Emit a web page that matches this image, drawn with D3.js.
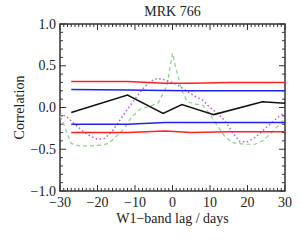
<!DOCTYPE html>
<html>
<head>
<meta charset="utf-8">
<script src="https://cdn.jsdelivr.net/npm/d3@7"></script>
<style>
  body { margin: 0; background: #fff; }
  svg text { font-family: "Liberation Serif", "Times New Roman", Times, serif; }
</style>
</head>
<body>
<svg id="chart"></svg>
<script>
const title = "MRK 766";
const xLabel = "W1\u2212band lag / days";
const yLabel = "Correlation";
const xTicks = [-30, -20, -10, 0, 10, 20, 30];
const yTicks = [-1, -0.5, 0, 0.5, 1];

// measured correlation
const blackLags = [-27, -12, -2.5, 2.5, 11, 24, 30];
const blackVals = [-0.06, 0.15, -0.07, 0.035, -0.085, 0.07, 0.05];

// significance levels
const bandLags = [-27, -12, -2, 5, 15, 30];
const redUpper = [0.31, 0.31, 0.29, 0.29, 0.30, 0.30];
const redLower = [-0.30, -0.30, -0.28, -0.30, -0.29, -0.29];
const blueUpper = [0.215, 0.21, 0.205, 0.20, 0.20, 0.20];
const blueLower = [-0.20, -0.20, -0.18, -0.18, -0.18, -0.18];

// green dashed
const greenLags = [-30, -29, -28, -27, -25, -22, -19, -17, -15.8, -13, -11, -8.7, -6, -3.8, -1.5, 0, 1, 2.5, 4, 6, 8, 10, 12, 14, 16, 19, 22, 24, 26, 28, 30];
const greenVals = [-0.10, -0.20, -0.32, -0.43, -0.46, -0.46, -0.45, -0.43, -0.38, -0.26, -0.12, -0.02, 0.015, 0.056, 0.26, 0.65, 0.45, 0.20, 0.07, 0.04, 0.03, -0.08, -0.22, -0.35, -0.42, -0.44, -0.44, -0.40, -0.32, -0.23, -0.13];

// purple dotted
const purpleLags = [-30, -28, -26, -24, -22, -20, -18, -16, -14, -12, -10, -8, -6, -4, -2, 0, 2, 4, 6, 8, 10, 12, 14, 16, 18, 20, 22, 24, 26, 28, 30];
const purpleVals = [-0.07, -0.12, -0.20, -0.28, -0.34, -0.38, -0.37, -0.28, -0.15, -0.02, 0.10, 0.22, 0.31, 0.35, 0.33, 0.30, 0.25, 0.19, 0.135, 0.09, 0.0, -0.07, -0.16, -0.30, -0.41, -0.41, -0.36, -0.28, -0.20, -0.12, -0.06];

const W = 300, H = 240;
const m = {left: 60, right: 15, top: 24, bottom: 49};
const svg = d3.select("#chart").attr("width", W).attr("height", H);

const x = d3.scaleLinear().domain([-30, 30]).range([m.left, W - m.right]);
const y = d3.scaleLinear().domain([-1, 1]).range([H - m.bottom, m.top]);

const axisColor = "#333";

// minor ticks
const g = svg.append("g");
const xMinor = d3.range(-30, 31, 1);
const yMinor = d3.range(-1, 1.001, 0.1);

g.selectAll(".xb").data(xMinor).join("line")
  .attr("x1", d => x(d)).attr("x2", d => x(d))
  .attr("y1", y(-1)).attr("y2", d => y(-1) - (d % 10 === 0 ? 6 : 3))
  .attr("stroke", axisColor).attr("stroke-width", 1);
g.selectAll(".xt").data(xMinor).join("line")
  .attr("x1", d => x(d)).attr("x2", d => x(d))
  .attr("y1", y(1)).attr("y2", d => y(1) + (d % 10 === 0 ? 6 : 3))
  .attr("stroke", axisColor).attr("stroke-width", 1);
g.selectAll(".yl").data(yMinor).join("line")
  .attr("y1", d => y(d)).attr("y2", d => y(d))
  .attr("x1", x(-30)).attr("x2", d => x(-30) + (Math.abs(Math.round(d * 10)) % 5 === 0 ? 6 : 3))
  .attr("stroke", axisColor).attr("stroke-width", 1);
g.selectAll(".yr").data(yMinor).join("line")
  .attr("y1", d => y(d)).attr("y2", d => y(d))
  .attr("x1", x(30)).attr("x2", d => x(30) - (Math.abs(Math.round(d * 10)) % 5 === 0 ? 6 : 3))
  .attr("stroke", axisColor).attr("stroke-width", 1);

// frame
svg.append("rect")
  .attr("x", x(-30)).attr("y", y(1))
  .attr("width", x(30) - x(-30)).attr("height", y(-1) - y(1))
  .attr("fill", "none").attr("stroke", axisColor).attr("stroke-width", 1.5);

// tick labels
svg.selectAll(".xl").data(xTicks).join("text")
  .attr("x", d => x(d)).attr("y", 207)
  .attr("text-anchor", "middle").attr("font-size", 14).attr("fill", "#222")
  .text(d => d < 0 ? "\u2212" + Math.abs(d) : d);
svg.selectAll(".ylab").data(yTicks).join("text")
  .attr("x", 56).attr("y", d => y(d) + 4.5)
  .attr("text-anchor", "end").attr("font-size", 14).attr("fill", "#222")
  .text(d => (d < 0 ? "\u2212" : "") + Math.abs(d).toFixed(1));

// titles
svg.append("text").attr("x", (x(-30) + x(30)) / 2).attr("y", 16)
  .attr("text-anchor", "middle").attr("font-size", 14).attr("fill", "#222").text(title);
svg.append("text").attr("x", (x(-30) + x(30)) / 2).attr("y", 223)
  .attr("text-anchor", "middle").attr("font-size", 14).attr("fill", "#222").text(xLabel);
svg.append("text")
  .attr("transform", `translate(24, ${y(0)}) rotate(-90)`)
  .attr("text-anchor", "middle").attr("font-size", 14).attr("fill", "#222").text(yLabel);

const line = d3.line().x(d => x(d[0])).y(d => y(d[1]));
const zip = (a, b) => a.map((v, i) => [v, b[i]]);

const series = [
  {lags: greenLags, vals: greenVals, color: "#8ccf8c", dash: "4,3", w: 1.2},
  {lags: purpleLags, vals: purpleVals, color: "#b45cd6", dash: "1.5,2.5", w: 1.5},
  {lags: bandLags, vals: redUpper, color: "#ff2020", dash: null, w: 1.5},
  {lags: bandLags, vals: redLower, color: "#ff2020", dash: null, w: 1.5},
  {lags: bandLags, vals: blueUpper, color: "#2020ff", dash: null, w: 1.5},
  {lags: bandLags, vals: blueLower, color: "#2020ff", dash: null, w: 1.5},
  {lags: blackLags, vals: blackVals, color: "#111", dash: null, w: 1.5}
];

svg.append("g").selectAll("path").data(series).join("path")
  .attr("d", s => line(zip(s.lags, s.vals)))
  .attr("fill", "none")
  .attr("stroke", s => s.color)
  .attr("stroke-width", s => s.w)
  .attr("stroke-dasharray", s => s.dash);
</script>
</body>
</html>
